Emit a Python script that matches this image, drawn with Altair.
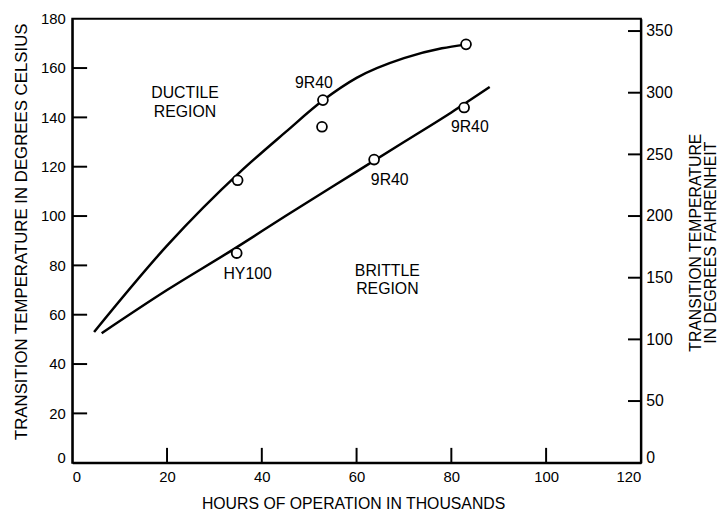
import altair as alt
import pandas as pd

# ---- data ----
upper_x = [4.6, 20, 35.5, 45, 53, 60, 70, 78, 83]
upper_c = [53, 88, 118, 134, 147, 156, 164, 168, 169.5]

lower_x = [6.2, 20, 34, 45, 60, 70, 80, 88.1]
lower_c = [52.5, 70, 86.5, 100, 118, 130, 142, 152.3]

point_x = [34.9, 52.9, 52.7, 83.1, 34.7, 63.7, 82.7]
point_c = [114.5, 147, 136.2, 169.6, 85, 122.9, 144]

label_text = ["DUCTILE", "REGION", "9R40", "9R40", "9R40", "HY100", "BRITTLE", "REGION"]
label_x = [23.8, 23.8, 51, 83.9, 67, 37, 66.5, 66.5]
label_c = [149.8, 142.3, 154, 136, 114.7, 76.6, 77.9, 70.6]

x_tick_values = [0, 20, 40, 60, 80, 100, 120]
c_tick_values = [0, 20, 40, 60, 80, 100, 120, 140, 160, 180]
f_tick_values = [0, 50, 100, 150, 200, 250, 300, 350]

x_inner_ticks = [20, 40, 60, 80, 100]
c_inner_ticks = [20, 40, 60, 80, 100, 120, 140, 160]
f_inner_ticks = [50, 100, 150, 200, 250, 300, 350]

FONT = "Liberation Sans"
W, H = 575, 449

upper = pd.DataFrame({"x": upper_x, "c": upper_c})
lower = pd.DataFrame({"x": lower_x, "c": lower_c})
points = pd.DataFrame({"x": point_x, "c": point_c})
labels = pd.DataFrame({"x": label_x, "c": label_c, "t": label_text})
xt = pd.DataFrame({"x": x_inner_ticks})
ct = pd.DataFrame({"c": c_inner_ticks})
ft = pd.DataFrame({"f": f_inner_ticks})

zero_baseline = {"condition": {"test": "datum.value == 0", "value": "alphabetic"}, "value": "middle"}

x_axis = alt.Axis(
    values=x_tick_values, ticks=False, grid=False,
    domainColor="black", domainWidth=2,
    labelFont=FONT, labelFontSize=15, labelColor="black", labelPadding=7,
    title="HOURS OF OPERATION IN THOUSANDS",
    titleFont=FONT, titleFontSize=16, titleFontWeight="normal", titleColor="black",
    titleX=284, titleY=33, titleAlign="center", titleBaseline="top", titleAngle=0,
)
c_axis = alt.Axis(
    orient="left", values=c_tick_values, ticks=False, grid=False,
    domainColor="black", domainWidth=2,
    labelFont=FONT, labelFontSize=15, labelColor="black", labelPadding=7,
    labelBaseline=zero_baseline,
    title="TRANSITION TEMPERATURE IN DEGREES CELSIUS",
    titleFont=FONT, titleFontSize=17, titleFontWeight="normal", titleColor="black",
    titleAngle=270, titleAlign="center", titleBaseline="top", titleX=-59, titleY=215,
)
f_axis = alt.Axis(
    orient="right", values=f_tick_values, ticks=False, grid=False,
    domainColor="black", domainWidth=2,
    labelFont=FONT, labelFontSize=16, labelColor="black", labelPadding=5,
    labelBaseline=zero_baseline,
    title=["TRANSITION TEMPERATURE", "IN DEGREES FAHRENHEIT"],
    titleFont=FONT, titleFontSize=16, titleFontWeight="normal", titleColor="black",
    titleAngle=270, titleAlign="center", titleBaseline="top", titleX=47, titleY=226,
    titleLineHeight=15,
)

xs = alt.Scale(domain=[0, 120], nice=False, zero=False)
cs = alt.Scale(domain=[0, 180], nice=False, zero=False)
fs = alt.Scale(domain=[0, 360], nice=False, zero=False)

X = alt.X("x:Q", scale=xs, axis=x_axis)
C = alt.Y("c:Q", scale=cs, axis=c_axis)

upper_line = alt.Chart(upper).mark_line(color="black", strokeWidth=2.5, interpolate="monotone").encode(x=X, y=C)
lower_line = alt.Chart(lower).mark_line(color="black", strokeWidth=2.5, interpolate="monotone").encode(x=X, y=C)
circles = alt.Chart(points).mark_point(
    shape="circle", filled=True, fill="white", stroke="black", strokeWidth=1.8, size=100, opacity=1
).encode(x=X, y=C)
texts = alt.Chart(labels).mark_text(
    font=FONT, fontSize=16, color="black", align="center", baseline="middle"
).encode(x=X, y=C, text="t:N")
left_ticks = alt.Chart(ct).mark_rule(color="black", strokeWidth=2).encode(
    y=C, x=alt.value(0), x2=alt.value(15)
)
bottom_ticks = alt.Chart(xt).mark_rule(color="black", strokeWidth=2).encode(
    x=X, y=alt.value(H), y2=alt.value(H - 15)
)

c_layer = alt.layer(upper_line, lower_line, circles, texts, left_ticks, bottom_ticks)

right_ticks = alt.Chart(ft).mark_rule(color="black", strokeWidth=2).encode(
    y=alt.Y("f:Q", scale=fs, axis=f_axis), x=alt.value(W - 13), x2=alt.value(W)
)

chart = alt.layer(c_layer, right_ticks).resolve_scale(y="independent").properties(
    width=W, height=H,
    autosize=alt.AutoSizeParams(type="none"),
    padding={"left": 65, "top": 8, "right": 78, "bottom": 46},
    background="white",
).configure_view(stroke="black", strokeWidth=2)

chart.save("out.html", embed_options={"renderer": "svg", "actions": False})
